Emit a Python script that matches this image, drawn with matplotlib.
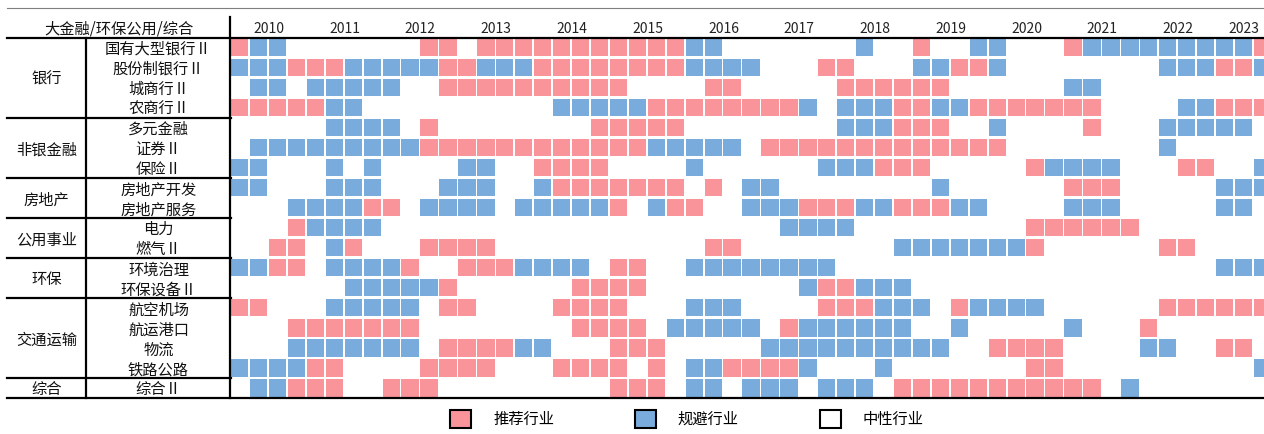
import numpy as np
import matplotlib
matplotlib.use('Agg')
import matplotlib.pyplot as plt
from matplotlib.patches import Patch

plt.rcParams['font.family'] = ['Noto Sans CJK SC', 'DejaVu Sans']

OUT_PATH = 'out.png'
W, H = 1264, 434

HEADER = '大金融/环保公用/综合'
YEARS = [str(y) for y in range(2010, 2024)]
GROUPS = ['银行', '非银金融', '房地产', '公用事业', '环保', '交通运输', '综合']
GROUP_SIZES = [4, 3, 2, 2, 2, 4, 1]
INDUSTRIES = ['国有大型银行Ⅱ', '股份制银行Ⅱ', '城商行Ⅱ', '农商行Ⅱ',
              '多元金融', '证券Ⅱ', '保险Ⅱ',
              '房地产开发', '房地产服务',
              '电力', '燃气Ⅱ',
              '环境治理', '环保设备Ⅱ',
              '航空机场', '航运港口', '物流', '铁路公路',
              '综合Ⅱ']

# quarterly signals 2010Q1 .. 2023Q3 (one block of 4 per year)
# P = 推荐行业, B = 规避行业, . = 中性行业
SIGNALS = [
    "PBB. .... ..PP .PPP PPPP PPPP BB.. .... .B.. P..B B... PBBB BBBB BBP",
    "BBBP PPBB BBBP PBBB PPPP PPPP BBBB ...P P... BBPP B... .... .BBB PPB",
    ".BB. BBBB B..P PPPP PPPP P... .PP. .... PPPP PP.. .... BB.. .... ...",
    "PPPP PBB. .... .... .BBB BBPP PPPP PPB. BBBP PBBP PPPP PP.. ..BB PPP",
    ".... .BBB B.P. .... ...P PPPP .... .... BBBP PP.. B... .P.. .BBB BB.",
    ".BBB BBBB BBPP PPPP PPPP PPBB BBB. PPPP PPPP PPPP P... .... .B.. ...",
    "BB.. .B.B .... BB.. PPPP .... B... ...B BBPP P... ..PB BBB. ..PP ..B",
    "BB.. .BBB ...B BB.. BPPP PPPP .P.B B... .... .B.. .... PPP. .... BBB",
    "...B BBBP P.BB BB.B BBBB P.BP P..B BBPP PBBP PPBB .... BBB. .... BB.",
    "...P BBBB .... .... .... .... .... .BBB B... .... ..PP PPPP .... ...",
    "..PP .BP. ..PP PP.. .... .... .PP. .... ...B BBBB BBP. .... .PP. ...",
    "BBPP .BBB BP.. PPPB BBB. PP.. BBBB BBBB .... .... .... .... .... BBB",
    ".... ..BB BBBP .... ..PP PP.. .... ..BP PBBB .... .... .... .... ...",
    "PP.. .BBB BB.P P... .PPP P... BBB. ...P PPBB B.PB BBB. .... .PPP PPP",
    "...P PPPP PP.. .... ..PP PP.B BBBB .PBB BBBB ..B. .... B... P... ...",
    "...B BBBB BB.P PPPB B... PPP. .... BBBB BBBB BB.. PPPP .... BB.. PP.",
    "BBBB PP.. ..PP PP.. .PPP P.P. BBPP PPB. ..B. .... ..PP .... .... ..B",
    ".BBP PP.. PPP. .... .... PPP. BB.B BB.B BB.P PPPP PPPP PP.B .... ...",
]
LEGEND_LABELS = ['推荐行业', '规避行业', '中性行业']

PINK = '#F9959A'
BLUE = '#79ABDC'

# layout in pixels
GRID_LEFT = 231
GRID_TOP = 37.5
GRID_BOTTOM = 398
CELL_W = 18.94
COL2_X = 86
LEFT_X = 7


def parse(sig):
    code = {'P': 1, 'B': -1, '.': 0}
    return np.array([code[c] for c in sig.replace(' ', '')])


def main():
    grid = np.array([parse(s) for s in SIGNALS])
    n_rows, n_cols = grid.shape
    row_h = (GRID_BOTTOM - GRID_TOP) / n_rows

    fig = plt.figure(figsize=(W / 100, H / 100), dpi=100)

    # heatmap
    ax = fig.add_axes([GRID_LEFT / W, 1 - GRID_BOTTOM / H,
                       (W - GRID_LEFT) / W, (GRID_BOTTOM - GRID_TOP) / H])
    for r in range(n_rows):
        for val, color in [(1, PINK), (-1, BLUE)]:
            cols = np.where(grid[r] == val)[0]
            ax.bar(cols, 0.86, width=0.915, bottom=r + 0.07, align='edge',
                   color=color, linewidth=0)
    ax.set_xlim(0, (W - GRID_LEFT) / CELL_W)
    ax.set_ylim(n_rows, 0)
    ax.axis('off')

    # year labels centred over their quarters
    for k, year in enumerate(YEARS):
        n_q = min(4, n_cols - 4 * k)
        ax.text(4 * k + n_q / 2, -0.42, year, ha='center', va='center',
                fontsize=10, color='#222222', clip_on=False)

    # table frame and labels, pixel coords
    ov = fig.add_axes([0, 0, 1, 1])
    ov.set_xlim(0, W)
    ov.set_ylim(H, 0)
    ov.axis('off')
    ov.patch.set_alpha(0)

    ov.plot([LEFT_X, W], [7.5, 7.5], color='#7f7f7f', lw=0.8)
    ov.plot([LEFT_X, W], [GRID_TOP, GRID_TOP], color='black', lw=1.6)
    ov.plot([LEFT_X, W], [GRID_BOTTOM, GRID_BOTTOM], color='black', lw=1.6)
    ov.plot([GRID_LEFT - 1, GRID_LEFT - 1], [17, GRID_BOTTOM], color='black', lw=1.6)
    ov.plot([COL2_X, COL2_X], [GRID_TOP, GRID_BOTTOM], color='black', lw=1.6)

    ov.text((LEFT_X + GRID_LEFT) / 2, 29, HEADER, ha='center', va='center',
            fontsize=11, color='#111111')

    start = 0
    for name, size in zip(GROUPS, GROUP_SIZES):
        end = start + size
        y_mid = GRID_TOP + row_h * (start + end) / 2
        ov.text((LEFT_X + COL2_X) / 2, y_mid + 2, name, ha='center', va='center',
                fontsize=11, color='#111111')
        if end < n_rows:
            y_line = GRID_TOP + row_h * end
            ov.plot([LEFT_X, GRID_LEFT], [y_line, y_line], color='black', lw=1.6)
        start = end

    for r, name in enumerate(INDUSTRIES):
        y_mid = GRID_TOP + row_h * (r + 0.5)
        ov.text((COL2_X + GRID_LEFT) / 2, y_mid + 2, name, ha='center', va='center',
                fontsize=11, color='#111111')

    handles = [Patch(facecolor=c, edgecolor='black', linewidth=1.5)
               for c in [PINK, BLUE, 'white']]
    fig.legend(handles, LEGEND_LABELS, loc='center', bbox_to_anchor=(687 / W, 1 - 419 / H),
               ncol=3, frameon=False, fontsize=11, handlelength=1.37, handleheight=1.5,
               handletextpad=1.44, columnspacing=5.3)

    fig.savefig(OUT_PATH, dpi=100)


if __name__ == "__main__":
    main()
